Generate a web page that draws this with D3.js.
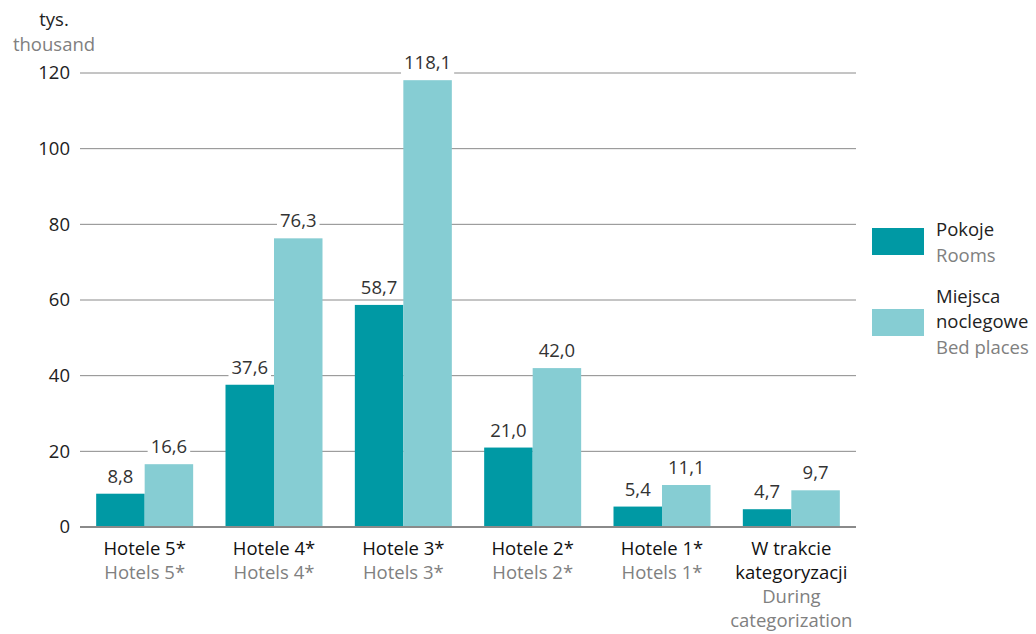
<!DOCTYPE html>
<html>
<head>
<meta charset="utf-8">
<script src="https://cdn.jsdelivr.net/npm/d3@7"></script>
<style>
  body { margin: 0; background: #fff; }
  text { font-family: "Open Sans", "Noto Sans", sans-serif; }
</style>
</head>
<body>
<div id="chart"></div>
<script>
// Data
var categoriesPl = ["Hotele 5*", "Hotele 4*", "Hotele 3*", "Hotele 2*", "Hotele 1*", "W trakcie|kategoryzacji"];
var categoriesEn = ["Hotels 5*", "Hotels 4*", "Hotels 3*", "Hotels 2*", "Hotels 1*", "During|categorization"];
var rooms = [8.8, 37.6, 58.7, 21.0, 5.4, 4.7];
var bedPlaces = [16.6, 76.3, 118.1, 42.0, 11.1, 9.7];
var yTicks = [0, 20, 40, 60, 80, 100, 120];
var seriesNames = [["Pokoje"], ["Miejsca", "noclegowe"]];
var seriesNamesEn = ["Rooms", "Bed places"];
var colors = ["#0099a4", "#86cdd3"];

var svgWidth = 1036;
var svgHeight = 634;
var fontSize = "18.5px";

var margin = { top: 73, right: 180, bottom: 107, left: 80 };
var width = 856 - margin.left;
var height = 527 - margin.top;

var svg = d3.select("#chart")
  .append("svg")
  .attr("width", svgWidth)
  .attr("height", svgHeight);

var chartGroup = svg.append("g")
  .attr("transform", `translate(${margin.left}, ${margin.top})`);

var x0 = d3.scaleBand()
  .domain(d3.range(categoriesPl.length))
  .range([0, width])
  .paddingInner(0.25)
  .paddingOuter(0.125);

var x1 = d3.scaleBand()
  .domain([0, 1])
  .range([0, x0.bandwidth()]);

var y = d3.scaleLinear()
  .domain([0, 120])
  .range([height, 0]);

// Gridlines
chartGroup.selectAll(".grid")
  .data(yTicks.filter(d => d > 0))
  .enter()
  .append("line")
  .attr("x1", 0)
  .attr("x2", width)
  .attr("y1", d => y(d))
  .attr("y2", d => y(d))
  .attr("stroke", "#8a8a8a")
  .attr("stroke-width", 1);

// Y tick labels
var leftAxis = d3.axisLeft(y).tickValues(yTicks).tickSize(0).tickPadding(10);
var yAxis = chartGroup.append("g").call(leftAxis);
yAxis.select(".domain").remove();
yAxis.selectAll("text")
  .attr("font-size", fontSize)
  .attr("fill", "#222")
  .style("font-family", "'Open Sans', sans-serif");

// Unit label
svg.append("text").attr("x", 54).attr("y", 26).attr("text-anchor", "middle")
  .attr("font-size", fontSize).attr("fill", "#222").text("tys.");
svg.append("text").attr("x", 54).attr("y", 51).attr("text-anchor", "middle")
  .attr("font-size", fontSize).attr("fill", "#808080").text("thousand");

// Bars
var groups = chartGroup.selectAll(".group")
  .data(categoriesPl)
  .enter()
  .append("g")
  .attr("transform", (d, i) => `translate(${x0(i)}, 0)`);

var allSeries = [rooms, bedPlaces];

allSeries.forEach(function(series, s) {
  groups.append("rect")
    .attr("x", x1(s))
    .attr("y", (d, i) => y(series[i]))
    .attr("width", x1.bandwidth())
    .attr("height", (d, i) => height - y(series[i]))
    .attr("fill", colors[s]);
});

// Axis baseline
chartGroup.append("line")
  .attr("x1", 0).attr("x2", width)
  .attr("y1", height).attr("y2", height)
  .attr("stroke", "#8a8a8a").attr("stroke-width", 2);

// Value labels with white background
allSeries.forEach(function(series, s) {
  groups.each(function(d, i) {
    var g = d3.select(this);
    var cx = x1(s) + x1.bandwidth() / 2;
    var label = series[i].toFixed(1).replace(".", ",");
    var t = g.append("text")
      .attr("x", cx)
      .attr("y", y(series[i]) - 11)
      .attr("text-anchor", "middle")
      .attr("font-size", fontSize)
      .attr("fill", "#333")
      .text(label);
    var bb = t.node().getBBox();
    g.insert("rect", function() { return t.node(); })
      .attr("x", bb.x - 3)
      .attr("y", bb.y)
      .attr("width", bb.width + 6)
      .attr("height", bb.height)
      .attr("fill", "#fff");
  });
});

// Category labels
groups.each(function(d, i) {
  var g = d3.select(this);
  var cx = x0.bandwidth() / 2;
  var lines = categoriesPl[i].split("|").map(t => ({ t: t, c: "#111" }))
    .concat(categoriesEn[i].split("|").map(t => ({ t: t, c: "#808080" })));
  lines.forEach(function(l, k) {
    g.append("text")
      .attr("x", cx)
      .attr("y", height + 28 + k * 24)
      .attr("text-anchor", "middle")
      .attr("font-size", fontSize)
      .attr("fill", l.c)
      .text(l.t);
  });
});

// Legend
var legendTops = [228, 309];
var legendTextY = [[236], [303, 328]];
seriesNames.forEach(function(names, s) {
  svg.append("rect")
    .attr("x", 872).attr("y", legendTops[s])
    .attr("width", 52).attr("height", 27)
    .attr("fill", colors[s]);
  names.forEach(function(n, k) {
    svg.append("text")
      .attr("x", 936).attr("y", legendTextY[s][k])
      .attr("font-size", fontSize).attr("fill", "#222").text(n);
  });
  svg.append("text")
    .attr("x", 936).attr("y", legendTextY[s][names.length - 1] + 26)
    .attr("font-size", fontSize).attr("fill", "#808080").text(seriesNamesEn[s]);
});
</script>
</body>
</html>
